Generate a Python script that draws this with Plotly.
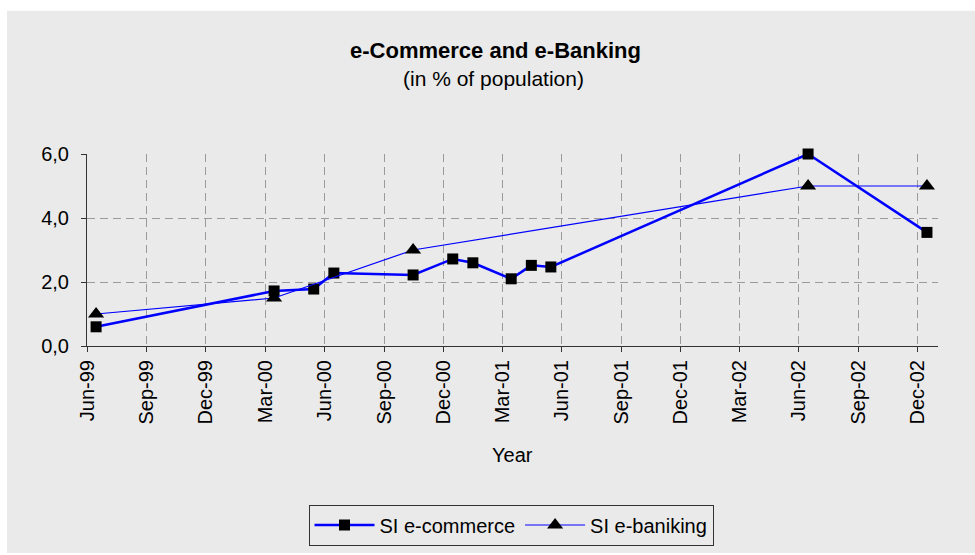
import plotly.graph_objects as go

# ---- data ----
ecom_dates = ["1999-06-15", "2000-03-15", "2000-05-15", "2000-06-15", "2000-10-15",
              "2000-12-15", "2001-01-15", "2001-03-15", "2001-04-15", "2001-05-15",
              "2002-06-15", "2002-12-15"]
ecom_values = [0.6, 1.72, 1.78, 2.28, 2.22, 2.72, 2.6, 2.1, 2.52, 2.47, 6.0, 3.55]

bank_dates = ["1999-06-15", "2000-03-15", "2000-10-15", "2002-06-15", "2002-12-15"]
bank_values = [1.0, 1.5, 3.0, 5.0, 5.0]

tick_dates = ["1999-06-01", "1999-09-01", "1999-12-01", "2000-03-01", "2000-06-01",
              "2000-09-01", "2000-12-01", "2001-03-01", "2001-06-01", "2001-09-01",
              "2001-12-01", "2002-03-01", "2002-06-01", "2002-09-01", "2002-12-01"]
tick_labels = ["Jun-99", "Sep-99", "Dec-99", "Mar-00", "Jun-00", "Sep-00", "Dec-00",
               "Mar-01", "Jun-01", "Sep-01", "Dec-01", "Mar-02", "Jun-02", "Sep-02", "Dec-02"]

# ---- layout geometry (pixels) ----
W, H = 975, 555
L, R, T, B = 87, 938, 154, 347
pw, ph = R - L, B - T


def px_x(x):
    return (x - L) / pw


def px_y(y):
    return (B - y) / ph


BG = "#EAEAEA"
FONT = "Liberation Sans, Arial, sans-serif"

fig = go.Figure()
fig.add_trace(go.Scatter(
    x=ecom_dates, y=ecom_values, name="SI e-commerce", mode="lines+markers",
    line=dict(color="#0000FF", width=2.5),
    marker=dict(symbol="square", size=11, color="black"),
    cliponaxis=False,
))
fig.add_trace(go.Scatter(
    x=bank_dates, y=bank_values, name="SI e-baniking", mode="lines+markers",
    line=dict(color="#0000FF", width=1.2),
    marker=dict(symbol="triangle-up", size=14, color="black"),
    cliponaxis=False,
))

fig.update_layout(
    width=W, height=H,
    margin=dict(l=L, r=W - R, t=T, b=H - B, pad=0),
    paper_bgcolor="white", plot_bgcolor=BG,
    font=dict(family=FONT, size=20, color="black"),
    separators=",.",
    showlegend=True,
    legend=dict(
        orientation="h", x=px_x(511), xanchor="center", y=px_y(525), yanchor="middle",
        bgcolor=BG, bordercolor="#333333", borderwidth=1,
        font=dict(size=20), itemwidth=60, tracegroupgap=0,
    ),
    xaxis=dict(
        type="date", range=["1999-06-01", "2003-01-01"],
        tickmode="array", tickvals=tick_dates, ticktext=tick_labels, tickangle=-90,
        showgrid=True, gridcolor="#9a9a9a", griddash="8px,5px", gridwidth=1,
        showline=True, linecolor="#333333", linewidth=1,
        ticks="outside", ticklen=5, tickcolor="#333333",
        tickfont=dict(size=20), zeroline=False, fixedrange=True,
    ),
    yaxis=dict(
        range=[0, 6], tickvals=[0, 2, 4, 6], tickformat=".1f",
        showgrid=True, gridcolor="#9a9a9a", griddash="8px,5px", gridwidth=1,
        showline=True, linecolor="#333333", linewidth=1,
        ticks="outside", ticklen=5, tickcolor="#333333", ticklabelstandoff=8,
        tickfont=dict(size=20), zeroline=False, fixedrange=True,
    ),
    shapes=[dict(
        type="rect", xref="paper", yref="paper", layer="below",
        x0=px_x(7), x1=px_x(975), y0=px_y(555), y1=px_y(10),
        fillcolor=BG, line=dict(width=0),
    )],
    annotations=[
        dict(text="<b>e-Commerce and e-Banking</b>", xref="paper", yref="paper",
             x=px_x(495), y=px_y(50), xanchor="center", yanchor="middle",
             showarrow=False, font=dict(size=22, family=FONT)),
        dict(text="(in % of population)", xref="paper", yref="paper",
             x=px_x(493), y=px_y(78), xanchor="center", yanchor="middle",
             showarrow=False, font=dict(size=21, family=FONT)),
        dict(text="Year", xref="paper", yref="paper",
             x=px_x(512), y=px_y(457), xanchor="center", yanchor="middle",
             showarrow=False, font=dict(size=20, family=FONT)),
    ],
)

fig.write_html(
    "out.html",
    config={"displayModeBar": False},
    post_script="document.body.style.margin='0';document.body.style.padding='0';",
)
